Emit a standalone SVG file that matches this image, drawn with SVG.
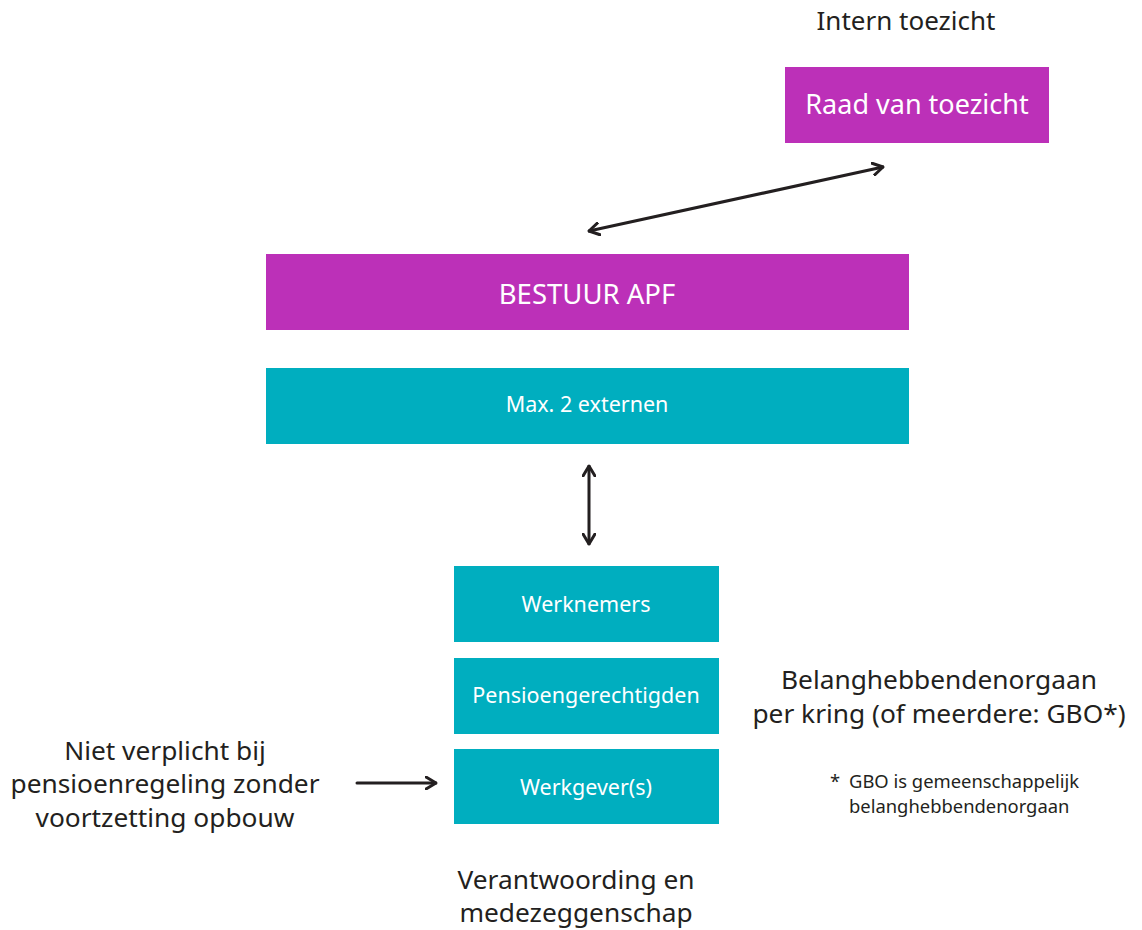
<svg xmlns="http://www.w3.org/2000/svg" width="1142" height="930" viewBox="0 0 1142 930">
<style>
.m{fill:#bc30b8}
.t{fill:#00aebf}
.w{fill:#ffffff;font-family:"Noto Sans",Lato,sans-serif;text-anchor:middle}
.d{fill:#231f20;font-family:"Noto Sans",Lato,sans-serif;text-anchor:middle}
.b{font-size:21.5px}
.l{font-size:26.3px}
.c{fill:none;stroke:#231f20;stroke-width:3;stroke-linecap:round;stroke-linejoin:round}
</style>
<defs>
<marker id="ah" viewBox="0 0 12 14" refX="11" refY="7" markerWidth="12" markerHeight="14" markerUnits="userSpaceOnUse" orient="auto-start-reverse">
<path d="M1,1 L11,7 L1,13" fill="none" stroke="#231f20" stroke-width="3" stroke-linecap="round" stroke-linejoin="round"/>
</marker>
</defs>
<rect width="1142" height="930" fill="#ffffff"/>
<text class="d" x="906" y="30" font-size="26">Intern toezicht</text>
<g id="raad"><rect class="m" x="785" y="67" width="264" height="76"/><text class="w" x="917" y="114" font-size="27">Raad van toezicht</text></g>
<g id="bestuur"><rect class="m" x="266" y="254" width="643" height="76"/><text class="w" x="587" y="303.5" font-size="27.5">BESTUUR APF</text></g>
<g id="externen"><rect class="t" x="266" y="368" width="643" height="76"/><text class="w b" x="587" y="412">Max. 2 externen</text></g>
<g id="werknemers"><rect class="t" x="454" y="566" width="265" height="76"/><text class="w b" x="586" y="612">Werknemers</text></g>
<g id="pensioen"><rect class="t" x="454" y="658" width="265" height="76"/><text class="w b" x="586" y="703">Pensioengerechtigden</text></g>
<g id="werkgever"><rect class="t" x="454" y="749" width="265" height="75"/><text class="w b" x="586" y="795">Werkgever(s)</text></g>
<g id="left-label"><text class="d l"><tspan x="165" y="760">Niet verplicht bij</tspan><tspan x="165" y="793">pensioenregeling zonder</tspan><tspan x="165" y="827">voortzetting opbouw</tspan></text></g>
<g id="right-label"><text class="d l"><tspan x="939" y="689">Belanghebbendenorgaan</tspan><tspan x="939" y="723">per kring (of meerdere: GBO*)</tspan></text></g>
<g id="footnote"><text class="d" font-size="18.4" style="text-anchor:start"><tspan x="830" y="788">*</tspan><tspan x="849" y="788">GBO is gemeenschappelijk</tspan><tspan x="849" y="813">belanghebbendenorgaan</tspan></text></g>
<g id="bottom-label"><text class="d l"><tspan x="576" y="889">Verantwoording en</tspan><tspan x="576" y="922">medezeggenschap</tspan></text></g>
<g id="connectors">
<line class="c" x1="589" y1="231" x2="883" y2="167" marker-start="url(#ah)" marker-end="url(#ah)"/>
<line class="c" x1="589" y1="466" x2="589" y2="544" marker-start="url(#ah)" marker-end="url(#ah)"/>
<line class="c" x1="357" y1="783" x2="436" y2="783" marker-end="url(#ah)"/>
</g>
</svg>
